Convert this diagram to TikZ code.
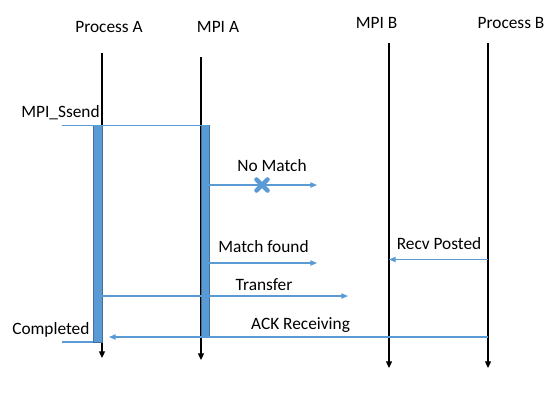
\documentclass[tikz,border=0pt]{standalone}
\usepackage{fontspec}
\setmainfont{Carlito}
\usetikzlibrary{arrows.meta}
\definecolor{offblue}{HTML}{5B9BD5}
\definecolor{offblueedge}{HTML}{41719C}
\begin{document}
\begin{tikzpicture}[x=0.75pt,y=-0.75pt,
  lbl/.style={font=\fontsize{13}{15}\selectfont, inner sep=0pt, anchor=base},
  life/.style={draw=black, line width=0.9pt, -{Triangle[length=5pt,width=4.5pt]}},
  msg/.style={draw=offblue, line width=0.8pt, -{Triangle[length=5pt,width=4pt]}},
  plain/.style={draw=offblue, line width=0.8pt},
  bar/.style={fill=offblue, draw=offblueedge, line width=0.4pt}]
\useasboundingbox (0,0) rectangle (560,404);
% titles
\node[lbl] (tPA) at (109,32) {Process A};
\node[lbl] (tMA) at (218,32) {MPI A};
\node[lbl] (tMB) at (376.5,28) {MPI B};
\node[lbl] (tPB) at (511,28) {Process B};
% lifeline coordinates
\coordinate (pa1) at (102,53);  \coordinate (pa2) at (102,358);
\coordinate (ma1) at (201,57);  \coordinate (ma2) at (201,360);
\coordinate (mb1) at (389,43);  \coordinate (mb2) at (389,368);
\coordinate (pb1) at (488,43);  \coordinate (pb2) at (488,368);
\draw[life] (pa1) -- (pa2);
\draw[life] (ma1) -- (ma2);
\draw[life] (mb1) -- (mb2);
\draw[life] (pb1) -- (pb2);
% activation bars
\node[bar, inner sep=0pt, anchor=north west, minimum width=9*0.75pt, minimum height=217*0.75pt] (barA) at (93,125) {};
\node[bar, inner sep=0pt, anchor=north west, minimum width=8*0.75pt, minimum height=212*0.75pt] (barM) at (201,125) {};
% MPI_Ssend
\coordinate (ss0) at (62,125.5);
\coordinate (ss1) at (209,125.5);
\draw[plain] (ss0) -- (ss1);
\node[lbl, anchor=base west] (lss) at (21,117) {MPI\_Ssend};
% No Match
\coordinate (nm0) at (209,185);
\coordinate (nm1) at (317,185);
\draw[msg] (nm0) -- (nm1);
\node[lbl] (lnm) at (272,171) {No Match};
\coordinate (xm) at (262,185);
\draw[offblue, line width=3.4pt, line cap=round] ([shift={(-5.5,-5.5)}]xm) -- ([shift={(5.5,5.5)}]xm);
\draw[offblue, line width=3.4pt, line cap=round] ([shift={(-5.5,5.5)}]xm) -- ([shift={(5.5,-5.5)}]xm);
% Match found
\coordinate (mf0) at (209,263);
\coordinate (mf1) at (317,263);
\draw[msg] (mf0) -- (mf1);
\node[lbl] (lmf) at (263.5,252.5) {Match found};
% Recv Posted
\coordinate (rp0) at (488,259.5);
\coordinate (rp1) at (389,259.5);
\draw[msg] (rp0) -- (rp1);
\node[lbl] (lrp) at (439,249) {Recv Posted};
% Transfer
\coordinate (tr0) at (102,296);
\coordinate (tr1) at (348,296);
\draw[msg] (tr0) -- (tr1);
\node[lbl] (ltr) at (264,290) {Transfer};
% ACK Receiving
\coordinate (ack0) at (488,337);
\coordinate (ack1) at (109,337);
\draw[msg] (ack0) -- (ack1);
\node[lbl] (lack) at (300.5,329) {ACK Receiving};
% Completed
\coordinate (cp0) at (62,342);
\coordinate (cp1) at (93,342);
\draw[plain] (cp0) -- (cp1);
\node[lbl, anchor=base west] (lcp) at (12,334) {Completed};
\end{tikzpicture}
\end{document}
